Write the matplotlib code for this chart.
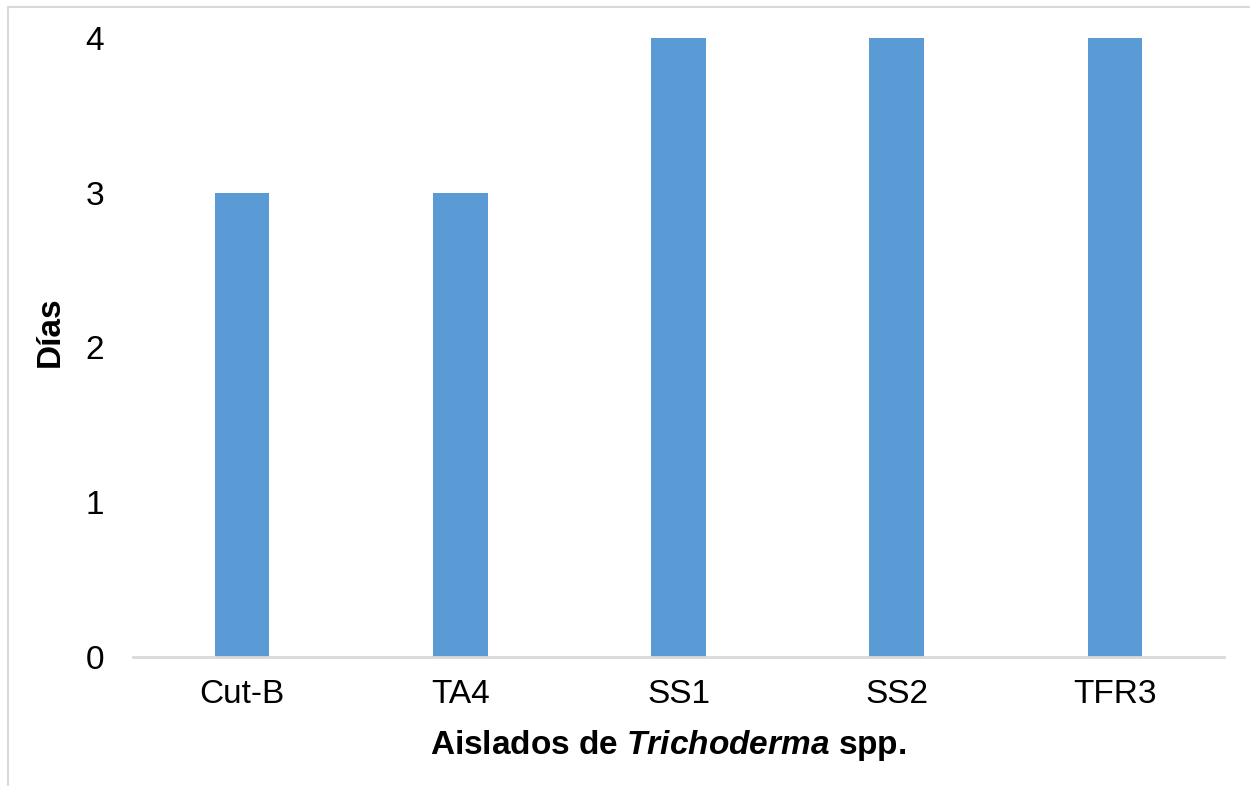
import matplotlib.pyplot as plt
from matplotlib.lines import Line2D

plt.rcParams['font.family'] = 'Liberation Sans'
plt.rcParams['mathtext.fontset'] = 'custom'
plt.rcParams['mathtext.it'] = 'Liberation Sans:italic:bold'
plt.rcParams['mathtext.rm'] = 'Liberation Sans:bold'

aislados = ['Cut-B', 'TA4', 'SS1', 'SS2', 'TFR3']
dias = [3, 3, 4, 4, 4]

fig = plt.figure(figsize=(12.5, 7.86), dpi=100)
ax = fig.add_axes([0.1064, 0.1641, 0.8728, 0.7876])

ax.bar(aislados, dias, width=0.25, color='#5B9BD5', zorder=2)

ax.set_xlim(-0.5, len(aislados) - 0.5)
ax.set_ylim(0, 4)
ax.set_yticks([0, 1, 2, 3, 4])

for s in ['top', 'right', 'left']:
    ax.spines[s].set_visible(False)
ax.spines['bottom'].set_color('#D9D9D9')
ax.spines['bottom'].set_linewidth(2)

ax.tick_params(axis='y', length=0, pad=21, labelsize=24)
ax.tick_params(axis='x', length=0, pad=16, labelsize=24)

ax.set_ylabel('Días', fontsize=24, fontweight='bold')
ax.set_xlabel(r'Aislados de $Trichoderma$ spp.', fontsize=24, fontweight='bold')
ax.yaxis.set_label_coords(-0.062, 0.525)
ax.xaxis.set_label_coords(0.491, -0.115)

# chart border (cropped outline)
fig.add_artist(Line2D([8 / 1250, 8 / 1250], [0, 1 - 7 / 786], transform=fig.transFigure,
                      color='#D9D9D9', linewidth=1.5))
fig.add_artist(Line2D([8 / 1250, 1], [1 - 7 / 786, 1 - 7 / 786], transform=fig.transFigure,
                      color='#D9D9D9', linewidth=1.5))

fig.savefig('out.png', dpi=100)
